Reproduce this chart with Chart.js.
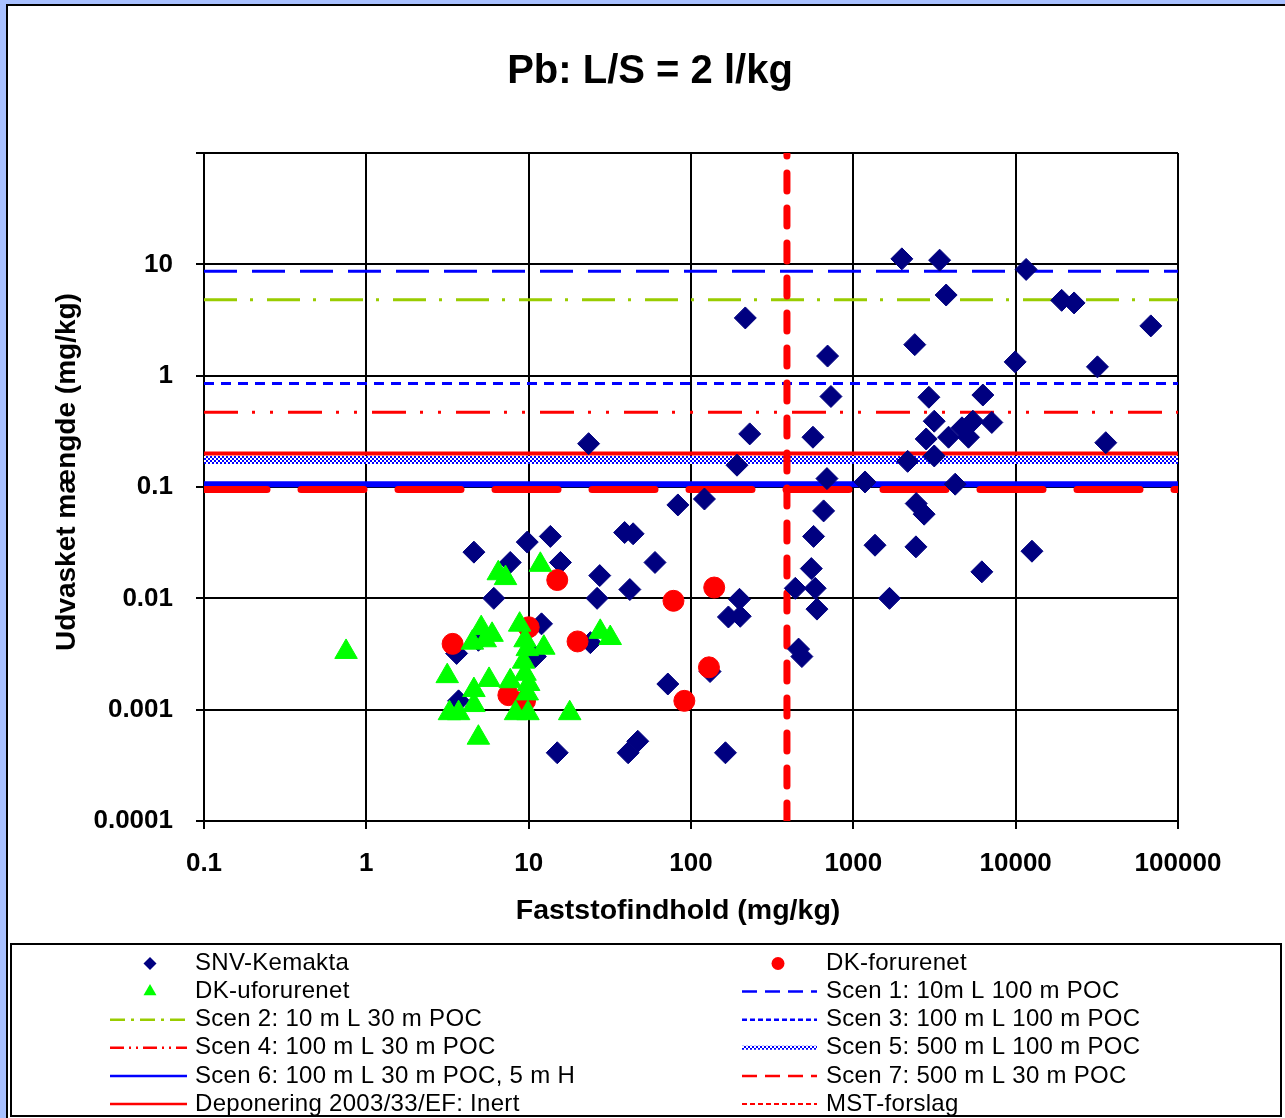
<!DOCTYPE html>
<html>
<head>
<meta charset="utf-8">
<title>Pb: L/S = 2 l/kg</title>
<script src="https://cdn.jsdelivr.net/npm/chart.js@4.4.1/dist/chart.umd.min.js"></script>
<style>
  html, body { margin: 0; padding: 0; overflow: hidden; background: #a8c0ff; }
  #frame { position: absolute; left: 6px; top: 4px; width: 1300px; height: 1130px; border: 2px solid #000; background: #fff; overflow: hidden; }
  #chart { display: block; }
</style>
</head>
<body>
<div id="frame"><canvas id="chart" width="1277" height="1112"></canvas></div>
<script>
// Texts
const chartTitle = 'Pb: L/S = 2 l/kg';
const xTitle = 'Faststofindhold (mg/kg)';
const yTitle = 'Udvasket mængde (mg/kg)';

// Axis ticks (log scales)
const xTicks = [0.1, 1, 10, 100, 1000, 10000, 100000];
const xTickLabels = ['0.1', '1', '10', '100', '1000', '10000', '100000'];
const yTicks = [0.0001, 0.001, 0.01, 0.1, 1, 10, 100];
const yTickLabels = ['0.0001', '0.001', '0.01', '0.1', '1', '10', ''];

// Measured points: [faststofindhold, udvasket mængde]
const snvKemakta = [
  [4.6, 0.026], [9.8, 0.032], [13.6, 0.036], [7.7, 0.021], [15.7, 0.021], [27.4, 0.016],
  [6.1, 0.010], [26.4, 0.010], [12, 0.0059], [4.9, 0.0042], [3.6, 0.0032], [24, 0.0040],
  [3.7, 0.0012], [15, 0.00041], [11, 0.0030], [23.4, 0.245], [230, 0.30], [564, 0.28],
  [192, 0.157], [688, 0.119], [1180, 0.111], [83, 0.069], [121, 0.078], [656, 0.061],
  [39, 0.039], [44, 0.038], [60, 0.021], [569, 0.036], [1360, 0.030], [42, 0.012],
  [551, 0.0185], [439, 0.0123], [582, 0.0123], [199, 0.0098], [170, 0.0068], [201, 0.0069],
  [597, 0.0080], [1670, 0.010], [460, 0.0035], [482, 0.0030], [131, 0.0022], [72, 0.0017],
  [47, 0.00052], [41, 0.00041], [163, 0.00041], [1990, 11.2], [3400, 10.9], [11600, 9.0],
  [3730, 5.3], [19200, 4.75], [22900, 4.5], [68000, 2.8], [216, 3.3], [694, 1.5],
  [2390, 1.9], [9930, 1.33], [31900, 1.2], [728, 0.65], [2920, 0.64], [6280, 0.67],
  [3150, 0.39], [2810, 0.27], [3860, 0.28], [4670, 0.34], [5450, 0.39], [7130, 0.38],
  [5120, 0.28], [35900, 0.25], [2160, 0.17], [3150, 0.19], [4240, 0.106], [2440, 0.071],
  [2730, 0.057], [2430, 0.029], [12600, 0.0265], [6190, 0.0173]
];
const dkForurenet = [
  [15, 0.0146], [10, 0.0055], [3.4, 0.0039], [20, 0.0041], [7.5, 0.00135],
  [9.5, 0.0012], [78, 0.0095], [139, 0.0125], [129, 0.0024], [91, 0.0012]
];
const dkUforurenet = [
  [11.8, 0.020], [6.5, 0.0168], [7.2, 0.0152], [0.75, 0.0033], [5.1, 0.0054], [5.95, 0.0047],
  [8.8, 0.0058], [4.5, 0.0040], [5.4, 0.0042], [9.5, 0.0042], [9.8, 0.0035], [12.4, 0.0036],
  [27.6, 0.0050], [31.8, 0.0044], [3.15, 0.0020], [5.7, 0.00185], [7.7, 0.0018], [9.3, 0.0027],
  [9.5, 0.0021], [10, 0.0017], [9.8, 0.0014], [4.6, 0.0015], [4.6, 0.0011], [3.25, 0.00093],
  [3.7, 0.00093], [8.3, 0.00093], [9.9, 0.00093], [17.9, 0.00093], [4.9, 0.00056]
];

// Scenario / limit values (mg/kg)
const scenNames = [
  'Scen 1: 10m L 100 m POC', 'Scen 2: 10 m L 30 m POC', 'Scen 3: 100 m L 100 m POC',
  'Scen 4: 100 m L 30 m POC', 'Scen 5: 500 m L 100 m POC', 'Scen 6: 100 m L 30 m POC, 5 m H',
  'Scen 7: 500 m L 30 m POC'
];
const scenLevels = [8.65, 4.8, 0.85, 0.47, 0.175, 0.106, 0.095];
const deponeringName = 'Deponering 2003/33/EF: Inert';
const deponeringLevel = 0.2;
const mstName = 'MST-forslag';
const mstLevel = 390;

const FONT = '"Liberation Sans", Arial, sans-serif';
const canvas = document.getElementById('chart');

// blue/white checkered stroke for scen 5
const checker = document.createElement('canvas');
checker.width = 4; checker.height = 4;
const cctx = checker.getContext('2d');
cctx.fillStyle = '#fff'; cctx.fillRect(0, 0, 4, 4);
cctx.fillStyle = '#0000ff'; cctx.fillRect(0, 0, 2, 2); cctx.fillRect(2, 2, 2, 2);
const checkerPattern = canvas.getContext('2d').createPattern(checker, 'repeat');

// line styles: plot and legend sample
const scenStyles = [
  { color: '#0000ff', width: 3, dash: [33, 15], legendDash: [15, 8] },
  { color: '#99cc00', width: 3, dash: [33, 13, 3, 14], legendDash: [15, 6, 3, 6] },
  { color: '#0000ff', width: 3, dash: [10, 7], legendDash: [5, 3] },
  { color: '#ff0000', width: 3, dash: [34, 14, 3, 15, 3, 15], legendDash: [14, 5, 2, 5, 2, 5] },
  { color: checkerPattern, width: 8, dash: [], legendDash: [], legendWidth: 4 },
  { color: '#0000ff', width: 6, dash: [], legendDash: [] },
  { color: '#ff0000', width: 7, dash: [63, 34], cap: 'round', legendDash: [15, 8] }
];

const toPoints = arr => arr.map(([x, y]) => ({ x, y }));
const hLine = y => [{ x: xTicks[0], y }, { x: xTicks[xTicks.length - 1], y }];
const vLine = x => [{ x, y: yTicks[0] }, { x, y: yTicks[yTicks.length - 1] }];

const pointSet = (label, data, style, color, radius, legendRadius, order) => ({
  label, data: toPoints(data), pointStyle: style, pointRadius: radius,
  backgroundColor: color, borderColor: color, borderWidth: 1, showLine: false,
  legendKind: 'point', legendRadius, order
});

const lineSet = (label, data, color, width, dash, cap, legendDash, legendWidth, order) => ({
  label, data, showLine: true, pointRadius: 0, borderColor: color, backgroundColor: color,
  borderWidth: width, borderDash: dash, borderCapStyle: cap || 'butt', fill: false,
  legendKind: 'line', legendDash, legendWidth: legendWidth || 2.5, order
});

// order matches the legend: left/right, row by row
const datasets = [
  pointSet('SNV-Kemakta', snvKemakta, 'rectRot', '#000080', 11, 6.5, 3),
  pointSet('DK-forurenet', dkForurenet, 'circle', '#ff0000', 10.5, 6.5, 2),
  pointSet('DK-uforurenet', dkUforurenet, 'triangle', '#00ff00', 13, 7.5, 1)
];
scenNames.forEach((name, i) => {
  const s = scenStyles[i];
  datasets.push(lineSet(name, hLine(scenLevels[i]), s.color, s.width, s.dash, s.cap, s.legendDash, s.legendWidth, 30 - i));
});
datasets.push(lineSet(deponeringName, hLine(deponeringLevel), '#ff0000', 4, [], 'butt', [], 2.5, 13));
datasets.push(lineSet(mstName, vLine(mstLevel), '#ff0000', 7, [18, 17], 'round', [5, 3], 2, 12));

// Title and axis titles
const titles = {
  id: 'titles',
  afterDraw(chart) {
    const ctx = chart.ctx;
    ctx.save();
    ctx.fillStyle = '#000';
    ctx.textAlign = 'center';
    ctx.font = 'bold 40px ' + FONT;
    ctx.fillText(chartTitle, 642, 77);
    ctx.font = 'bold 28.5px ' + FONT;
    ctx.fillText(xTitle, 670, 913);
    ctx.font = 'bold 28px ' + FONT;
    ctx.translate(59, 466);
    ctx.rotate(-Math.PI / 2);
    ctx.textBaseline = 'middle';
    ctx.fillText(yTitle, 0, 0);
    ctx.restore();
  }
};

const drawMarker = (ctx, kind, x, y, r) => {
  ctx.beginPath();
  if (kind === 'rectRot') {
    ctx.moveTo(x - r, y); ctx.lineTo(x, y - r); ctx.lineTo(x + r, y); ctx.lineTo(x, y + r);
  } else if (kind === 'triangle') {
    ctx.moveTo(x, y - r);
    ctx.lineTo(x + r * Math.sin(2 * Math.PI / 3), y - r * Math.cos(2 * Math.PI / 3));
    ctx.lineTo(x + r * Math.sin(4 * Math.PI / 3), y - r * Math.cos(4 * Math.PI / 3));
  } else {
    ctx.arc(x, y, r, 0, 2 * Math.PI);
  }
  ctx.closePath();
  ctx.fill();
};

// Two-column boxed legend under the plot
const legendBox = {
  id: 'legendBox',
  afterDraw(chart) {
    const ctx = chart.ctx;
    ctx.save();
    ctx.lineWidth = 2;
    ctx.strokeStyle = '#000';
    ctx.strokeRect(3, 938, 1270, 172);
    ctx.font = '24px ' + FONT;
    ctx.letterSpacing = '0.3px';
    ctx.textBaseline = 'middle';
    chart.data.datasets.forEach((ds, i) => {
      const col = i % 2;
      const row = Math.floor(i / 2);
      const y = 957.5 + row * 28.1;
      const x0 = col ? 734 : 102;
      const x1 = col ? 809 : 179;
      const mx = col ? 770 : 142;
      const tx = col ? 818 : 187;
      if (ds.legendKind === 'point') {
        ctx.fillStyle = ds.backgroundColor;
        drawMarker(ctx, ds.pointStyle, mx, y, ds.legendRadius);
      } else {
        ctx.beginPath();
        ctx.setLineDash(ds.legendDash);
        ctx.lineCap = 'butt';
        ctx.lineWidth = ds.legendWidth;
        ctx.strokeStyle = ds.borderColor;
        ctx.moveTo(x0, y);
        ctx.lineTo(x1, y);
        ctx.stroke();
        ctx.setLineDash([]);
      }
      ctx.fillStyle = '#000';
      ctx.fillText(ds.label, tx, y);
    });
    ctx.restore();
  }
};

const axisGrid = { color: '#000', lineWidth: 2, tickLength: 8, drawTicks: true };
const tickFont = { family: FONT, size: 26, weight: 'bold' };

new Chart(canvas.getContext('2d'), {
  type: 'scatter',
  data: { datasets },
  options: {
    responsive: false,
    animation: false,
    events: [],
    layout: { padding: { left: 0, right: 107, top: 147, bottom: 237 } },
    plugins: { legend: { display: false }, tooltip: { enabled: false }, title: { display: false } },
    scales: {
      x: {
        type: 'logarithmic', min: xTicks[0], max: xTicks[xTicks.length - 1],
        afterBuildTicks: s => { s.ticks = xTicks.map(v => ({ value: v })); },
        afterFit: s => { s.height = 60; },
        grid: axisGrid,
        border: { color: '#000', width: 2 },
        ticks: { autoSkip: false, maxRotation: 0, padding: 19, color: '#000', font: tickFont,
                 callback: (v, i) => xTickLabels[i] }
      },
      y: {
        type: 'logarithmic', min: yTicks[0], max: yTicks[yTicks.length - 1],
        afterBuildTicks: s => { s.ticks = yTicks.map(v => ({ value: v })); },
        afterFit: s => { s.width = 196; },
        grid: axisGrid,
        border: { color: '#000', width: 2 },
        ticks: { autoSkip: false, padding: 23, color: '#000', font: tickFont,
                 callback: (v, i) => yTickLabels[i] }
      }
    }
  },
  plugins: [titles, legendBox]
});
</script>
</body>
</html>
